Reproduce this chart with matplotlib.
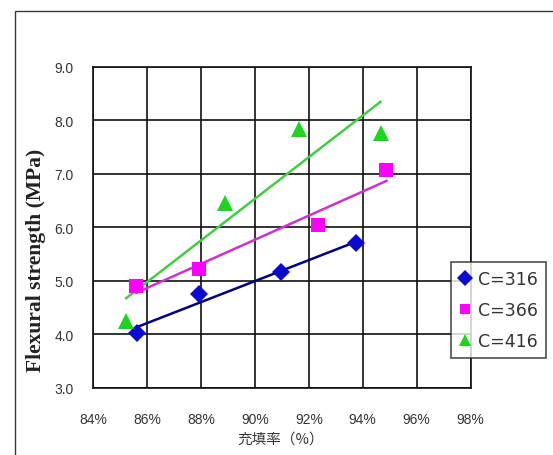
import numpy as np
import matplotlib
matplotlib.use("Agg")
from matplotlib import pyplot as plt
from matplotlib.patches import Rectangle
from matplotlib.ticker import PercentFormatter, FormatStrFormatter, MultipleLocator

# data (filling ratio, flexural strength MPa)
labels = ["C=316", "C=366", "C=416"]
x_316 = [0.8562, 0.8792, 0.9098, 0.9374]
y_316 = [4.03, 4.75, 5.16, 5.70]
x_366 = [0.8559, 0.8794, 0.9235, 0.9488]
y_366 = [4.90, 5.23, 6.04, 7.07]
x_416 = [0.8522, 0.8890, 0.9164, 0.9466]
y_416 = [4.25, 6.45, 7.84, 7.75]

marker_colors = ["#0a0ad0", "#ff00ff", "#1ed41e"]
line_colors = ["#000080", "#cc33cc", "#44cc44"]
markers = ["D", "s", "^"]
msizes = [9.5, 10, 11]
leg_msizes = [8.5, 7, 9]

W, H = 553, 456
fig = plt.figure(figsize=(W / 100, H / 100), dpi=100)

# outer chart-area frame (runs off the right and bottom edges)
fig.patches.append(Rectangle((15 / W, -0.1), 1.2, 1.1 - 12.3 / H,
                             transform=fig.transFigure, fill=False,
                             edgecolor="#3a3a3a", linewidth=1.0))

ax = fig.add_axes([93.3 / W, 1 - 389 / H, (470.5 - 93.3) / W, (389 - 67.5) / H])

series = [(x_316, y_316), (x_366, y_366), (x_416, y_416)]
handles = []
for i, (xs, ys) in enumerate(series):
    xs = np.array(xs)
    ys = np.array(ys)
    k, b = np.polyfit(xs, ys, 1)
    xl = np.array([xs.min(), xs.max()])
    ax.plot(xl, k * xl + b, color=line_colors[i], linewidth=1.8, zorder=3)
    ax.plot(xs, ys, linestyle="none", marker=markers[i], ms=msizes[i],
            color=marker_colors[i], markeredgewidth=0, zorder=4)
    h, = ax.plot([], [], linestyle="none", marker=markers[i], ms=leg_msizes[i],
                 color=marker_colors[i], markeredgewidth=0)
    handles.append(h)

ax.set_xlim(0.84, 0.98)
ax.set_ylim(3.0, 9.0)
ax.xaxis.set_major_locator(MultipleLocator(0.02))
ax.yaxis.set_major_locator(MultipleLocator(1.0))
ax.xaxis.set_major_formatter(PercentFormatter(xmax=1, decimals=0))
ax.yaxis.set_major_formatter(FormatStrFormatter("%.1f"))
ax.grid(True, color="#111111", linewidth=1.2)
ax.set_axisbelow(True)
for sp in ax.spines.values():
    sp.set_color("#111111")
    sp.set_linewidth(1.2)
ax.tick_params(axis="both", length=0, labelsize=10, labelcolor="#333333",
               labelfontfamily="Liberation Sans")
ax.tick_params(axis="x", pad=17)
ax.tick_params(axis="y", pad=14)

fig.text(36 / W, 1 - 260 / H, "Flexural strength (MPa)", rotation=90,
         ha="center", va="center", fontsize=15.5, fontweight="bold",
         family="Liberation Serif", color="#222222")
fig.text(281 / W, 1 - 440 / H, "充填率（%）", ha="center", va="center",
         fontsize=10.5, family=["Noto Sans CJK JP", "DejaVu Sans"], color="#333333")

leg = fig.legend(handles, labels, loc="upper left",
                 bbox_to_anchor=(450.7 / W, 1 - 263.3 / H),
                 frameon=True, fancybox=False, borderpad=0.45,
                 labelspacing=0.75, handlelength=0.8, handletextpad=0.35,
                 borderaxespad=0, prop={"family": "DejaVu Sans", "size": 12.5})
leg.get_frame().set_edgecolor("#222222")
leg.get_frame().set_linewidth(1.2)
for t in leg.get_texts():
    t.set_color("#333333")

fig.savefig("out.png", dpi=100)
